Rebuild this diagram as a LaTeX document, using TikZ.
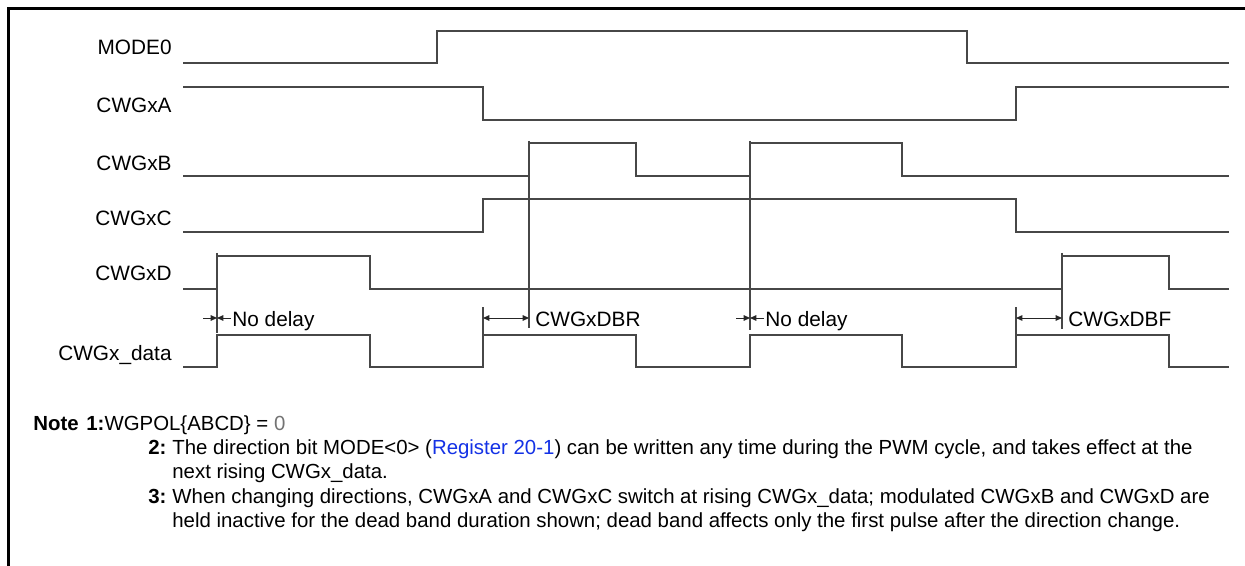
\documentclass[tikz,border=0pt]{standalone}
\usepackage{fontspec}
\setmainfont{Liberation Sans}
\usetikzlibrary{arrows.meta}
\definecolor{linkblue}{RGB}{20,50,230}
\begin{document}
\begin{tikzpicture}[x=0.5pt,y=-0.5pt,
  wave/.style={draw=black!72, line width=0.65pt, line join=miter},
  frame/.style={draw=black, line width=1.3pt},
  lbl/.style={anchor=base east, inner sep=0pt, font=\fontsize{10.4}{12}\selectfont},
  dimtxt/.style={anchor=base west, inner sep=0pt, font=\fontsize{10.4}{12}\selectfont},
  dim/.style={draw=black!85, line width=0.5pt, -{Triangle[length=3.2pt,width=2.8pt]}},
  dimboth/.style={draw=black!85, line width=0.5pt, {Triangle[length=3.2pt,width=2.8pt]}-{Triangle[length=3.2pt,width=2.8pt]}},
  note/.style={anchor=base west, inner sep=0pt, font=\fontsize{10.2}{12}\selectfont}]
\useasboundingbox (0,0) rectangle (1245,566);
\fill[white] (0,0) rectangle (1245,566);
\draw[frame] (8.7,566) -- (8.7,8.5) -- (1245,8.5);

% labels
\node[lbl] (lm) at (172,55) {MODE0};
\node[lbl] (la) at (172,113) {CWGxA};
\node[lbl] (lb) at (172,171) {CWGxB};
\node[lbl] (lc) at (172,226) {CWGxC};
\node[lbl] (ld) at (172,281) {CWGxD};
\node[lbl] (ldata) at (172,360) {CWGx\_data};

% MODE0
\draw[wave] (183,63) -- (437,63) -- (437,31) -- (967,31) -- (967,63) -- (1229,63);
% CWGxA
\draw[wave] (183,87) -- (483,87) -- (483,120) -- (1016,120) -- (1016,87) -- (1229,87);
% CWGxB
\draw[wave] (183,176) -- (529,176) -- (529,143) -- (636,143) -- (636,176) -- (750,176) -- (750,143) -- (902,143) -- (902,176) -- (1229,176);
\draw[wave] (529,141) -- (529,328);
\draw[wave] (750,141) -- (750,330);
% CWGxC
\draw[wave] (183,232) -- (483,232) -- (483,199) -- (1016,199) -- (1016,232) -- (1229,232);
% CWGxD
\draw[wave] (183,289) -- (217,289) -- (217,256) -- (370,256) -- (370,289) -- (1062,289) -- (1062,256) -- (1169,256) -- (1169,289) -- (1229,289);
\draw[wave] (217,253) -- (217,333);
\draw[wave] (1062,253) -- (1062,329);
% CWGx_data
\draw[wave] (183,367) -- (217,367) -- (217,335) -- (370,335) -- (370,367) -- (483,367) -- (483,335) -- (636,335) -- (636,367) -- (750,367) -- (750,335) -- (902,335) -- (902,367) -- (1016,367) -- (1016,335) -- (1169,335) -- (1169,367) -- (1229,367);
\draw[wave] (483,307) -- (483,335);
\draw[wave] (1016,307) -- (1016,335);

% dimension markers
\coordinate (n1l) at (203,318); \coordinate (n1) at (217,318); \coordinate (n1r) at (231,318);
\draw[dim] (n1l) -- (n1);
\draw[dim] (n1r) -- (n1);
\node[dimtxt] (t1) at (232,326) {No delay};
\coordinate (r1) at (483,318); \coordinate (r2) at (529,318);
\draw[dimboth] (r1) -- (r2);
\node[dimtxt] (t2) at (535,326) {CWGxDBR};
\coordinate (n2l) at (736,318); \coordinate (n2) at (750,318); \coordinate (n2r) at (764,318);
\draw[dim] (n2l) -- (n2);
\draw[dim] (n2r) -- (n2);
\node[dimtxt] (t3) at (765,326) {No delay};
\coordinate (f1) at (1016,318); \coordinate (f2) at (1062,318);
\draw[dimboth] (f1) -- (f2);
\node[dimtxt] (t4) at (1068,326) {CWGxDBF};

% notes
\node[note] (nt) at (33,430) {\textbf{Note}};
\node[note] (n1t) at (86,430) {\textbf{1:}WGPOL\{ABCD\} = {\color{black!55}0}};
\node[note] (n2n) at (148,454) {\textbf{2:}};
\node[note] (n2a) at (172,454) {The direction bit MODE<0> ({\color{linkblue}Register 20-1}) can be written any time during the PWM cycle, and takes effect at the};
\node[note] (n2b) at (172,478) {next rising CWGx\_data.};
\node[note] (n3n) at (148,503) {\textbf{3:}};
\node[note] (n3a) at (172,503) {When changing directions, CWGxA and CWGxC switch at rising CWGx\_data; modulated CWGxB and CWGxD are};
\node[note] (n3b) at (172,527) {held inactive for the dead band duration shown; dead band affects only the first pulse after the direction change.};
\end{tikzpicture}
\end{document}
